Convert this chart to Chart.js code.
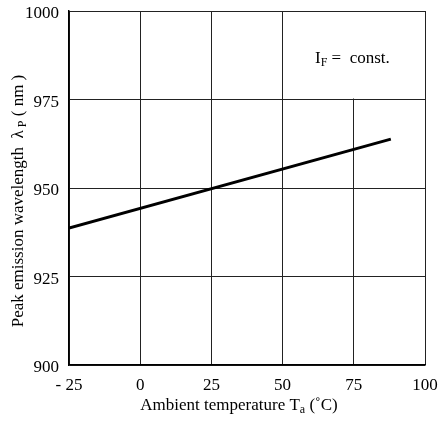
<html>
<head>
    <script src="https://cdn.jsdelivr.net/npm/chart.js@4.4.0/dist/chart.umd.min.js"></script>
    <style>
        body { margin: 0; background: #fff; }
        #wrap { width: 438px; height: 422px; }
    </style>
</head>
<body>
    <div id="wrap"><canvas id="myChart" width="438" height="422"></canvas></div>
<script>
    // values
    var temperature = [-25, 88];          // Ta (deg C)
    var wavelength = [938.7, 963.8];      // peak wavelength (nm)
    var xTicks = [-25, 0, 25, 50, 75, 100];
    var yTicks = [900, 925, 950, 975, 1000];

    var serif = '"Liberation Serif", "DejaVu Serif", serif';

    // draws the subscripted titles and the I_F note
    var textPlugin = {
        id: 'texts',
        beforeDatasetsDraw: function (chart) {
            var ctx = chart.ctx;
            var xs = chart.scales.x, ys = chart.scales.y;
            var area = chart.chartArea;
            // white box behind the note
            var bx = xs.getPixelForValue(50) + 1;
            var by = ys.getPixelForValue(975) - 1;
            ctx.save();
            ctx.fillStyle = '#fff';
            ctx.fillRect(bx, area.top + 1, area.right - 1 - bx, by - area.top - 1);
            ctx.restore();
        },
        afterDraw: function (chart) {
            var ctx = chart.ctx;
            ctx.save();
            ctx.fillStyle = '#000';
            ctx.textBaseline = 'alphabetic';

            // note
            ctx.font = '17px ' + serif;
            var x = 315, y = 63;
            ctx.fillText('I', x, y);
            x += ctx.measureText('I').width;
            ctx.font = '12px ' + serif;
            ctx.fillText('F', x, y + 3);
            x += ctx.measureText('F').width;
            ctx.font = '17px ' + serif;
            ctx.fillText(' =  const.', x, y);

            // x title
            drawSub(ctx, 'Ambient temperature T', 'a', ' (\u02DAC)', 239, 404, 0);
            // y title
            drawSub(ctx, 'Peak emission wavelength  \u03BB', ' P', ' ( nm )', 17, 201, -Math.PI / 2);
            ctx.restore();
        }
    };

    function drawSub(ctx, main, sub, rest, cx, cy, rot) {
        ctx.save();
        ctx.translate(cx, cy);
        ctx.rotate(rot);
        ctx.font = '17px ' + serif;
        var w1 = ctx.measureText(main).width;
        var w3 = ctx.measureText(rest).width;
        ctx.font = '12px ' + serif;
        var w2 = ctx.measureText(sub).width;
        var x = -(w1 + w2 + w3) / 2;
        ctx.font = '17px ' + serif;
        ctx.fillText(main, x, 6);
        ctx.font = '12px ' + serif;
        ctx.fillText(sub, x + w1, 9);
        ctx.font = '17px ' + serif;
        ctx.fillText(rest, x + w1 + w2, 6);
        ctx.restore();
    }

    var points = temperature.map(function (t, i) { return { x: t, y: wavelength[i] }; });

    var chart = new Chart(document.getElementById('myChart').getContext('2d'), {
        type: 'scatter',
        data: {
            datasets: [{
                data: points,
                showLine: true,
                borderColor: '#000',
                borderWidth: 3,
                pointRadius: 0,
                fill: false
            }]
        },
        options: {
            responsive: false,
            animation: false,
            layout: { padding: { top: 11, right: 13, left: 0, bottom: 0 } },
            plugins: { legend: { display: false }, tooltip: { enabled: false } },
            scales: {
                x: {
                    type: 'linear',
                    min: -25, max: 100,
                    afterFit: function (s) {
                        s.height = 57;
                        s.paddingLeft = 0; s.paddingRight = 0;
                    },
                    afterBuildTicks: function (s) { s.ticks = xTicks.map(function (v) { return { value: v }; }); },
                    ticks: {
                        color: '#000',
                        font: { family: serif, size: 17 },
                        padding: 10,
                        maxRotation: 0,
                        callback: function (v) { return v === -25 ? '- 25' : String(v); }
                    },
                    grid: { color: '#222', lineWidth: 1, drawTicks: false },
                    border: { color: '#000', width: 1.5 }
                },
                y: {
                    min: 900, max: 1000,
                    afterFit: function (s) {
                        s.width = 69;
                        s.paddingTop = 0; s.paddingBottom = 0;
                    },
                    afterBuildTicks: function (s) { s.ticks = yTicks.map(function (v) { return { value: v }; }); },
                    ticks: {
                        color: '#000',
                        font: { family: serif, size: 17 },
                        padding: 10,
                        labelOffset: 3,
                        callback: function (v) { return String(v); }
                    },
                    grid: { color: '#222', lineWidth: 1, drawTicks: false },
                    border: { color: '#000', width: 1.5 }
                }
            }
        },
        plugins: [textPlugin]
    });
</script>
</body>
</html>
